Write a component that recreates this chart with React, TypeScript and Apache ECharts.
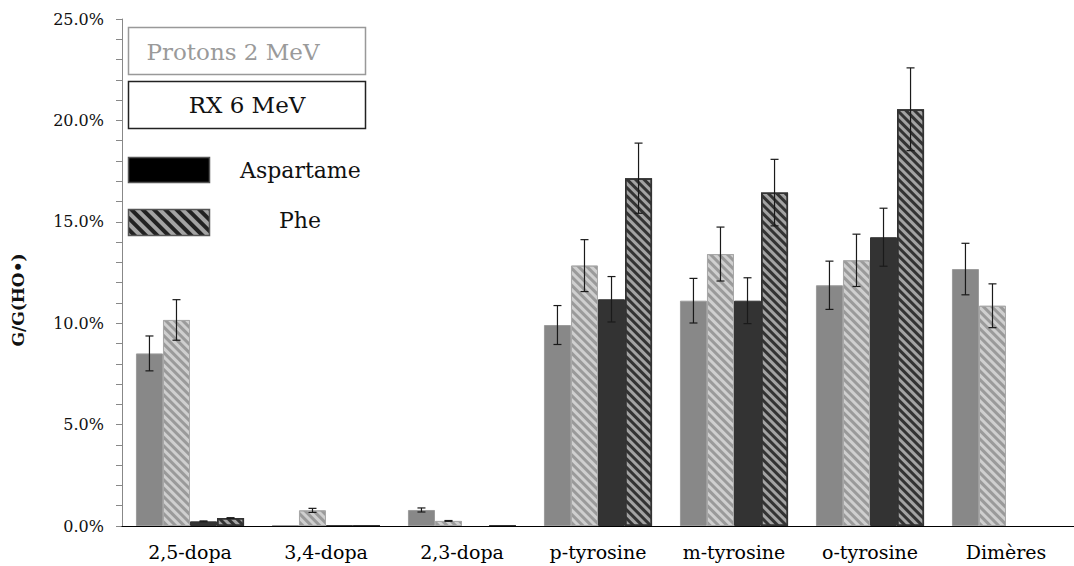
import React, { useEffect, useRef } from "react";
import * as echarts from "echarts";

const categories = ["2,5-dopa", "3,4-dopa", "2,3-dopa", "p-tyrosine", "m-tyrosine", "o-tyrosine", "Dimères"];
const protonsAsp = [8.51, 0.03, 0.79, 9.91, 11.11, 11.87, 12.67];
const protonsPhe = [10.16, 0.77, 0.25, 12.84, 13.41, 13.1, 10.86];
const rxAsp = [0.23, 0.03, null, 11.18, 11.11, 14.24, null];
const rxPhe = [0.39, 0.02, 0.03, 17.15, 16.44, 20.55, null];
const protonsAspErr = [0.86, 0, 0.1, 0.96, 1.1, 1.19, 1.27];
const protonsPheErr = [1.0, 0.1, 0.02, 1.28, 1.33, 1.29, 1.08];
const rxAspErr = [0.02, 0, 0, 1.12, 1.13, 1.43, 0];
const rxPheErr = [0.02, 0, 0, 1.73, 1.64, 2.04, 0];
const yTicks = { min: 0, max: 25, interval: 5 };

const FONT = "'DejaVu Serif', serif";
const GAP = 0.205;

const hatchSvg = (bg: string, fg: string, w: number, h: number) => {
  const s = `<svg xmlns='http://www.w3.org/2000/svg' width='${w}' height='${h}'><defs><pattern id='p' width='8' height='8' patternUnits='userSpaceOnUse' patternTransform='rotate(-45)'><rect width='8' height='8' fill='${bg}'/><rect width='4' height='8' fill='${fg}'/></pattern></defs><rect width='${w}' height='${h}' fill='url(#p)'/></svg>`;
  return "data:image/svg+xml;charset=utf-8," + encodeURIComponent(s);
};

export default function App() {
  const ref = useRef<HTMLDivElement>(null);
  useEffect(() => {
    if (!ref.current) return;
    const chart = echarts.init(ref.current, undefined, { renderer: "svg" });
    const seriesVals = [protonsAsp, protonsPhe, rxAsp, rxPhe];
    const seriesErrs = [protonsAspErr, protonsPheErr, rxAspErr, rxPheErr];
    const errData: number[][] = [];
    seriesVals.forEach((vals, si) => {
      vals.forEach((v, ci) => {
        const e = seriesErrs[si][ci];
        if (v != null && e > 0) errData.push([ci, v, e, si]);
      });
    });
    const stripe = (color: string) => ({
      symbol: "rect",
      symbolSize: 1,
      color,
      dashArrayX: [1, 0],
      dashArrayY: [3, 3],
      rotation: Math.PI / 4,
    });
    chart.setOption({
      animation: false,
      grid: { left: 122, top: 19, right: -10, bottom: 40 },
      xAxis: {
        type: "category",
        data: categories,
        axisLine: { lineStyle: { color: "#000", width: 1.2 } },
        axisTick: { show: false },
        axisLabel: { fontFamily: FONT, fontSize: 19, color: "#000", margin: 16 },
        z: 5,
      },
      yAxis: {
        type: "value",
        ...yTicks,
        axisLine: { show: true, lineStyle: { color: "#888" } },
        axisTick: { show: true, length: 6, lineStyle: { color: "#888" } },
        minorTick: { show: true, splitNumber: 5, length: 6, lineStyle: { color: "#888" } },
        splitLine: { show: false },
        axisLabel: {
          fontFamily: FONT,
          fontSize: 16,
          color: "#111",
          margin: 18,
          formatter: (v: number) => v.toFixed(1) + "%",
        },
      },
      series: [
        {
          type: "bar",
          name: "Protons Aspartame",
          data: protonsAsp,
          barGap: "0%",
          barCategoryGap: GAP * 100 + "%",
          itemStyle: { color: "#888888", borderColor: "#9c9c9c", borderWidth: 1 },
        },
        {
          type: "bar",
          name: "Protons Phe",
          data: protonsPhe,
          itemStyle: { color: "#cfcfcf", borderColor: "#a8a8a8", borderWidth: 1, decal: stripe("#9a9a9a") },
        },
        {
          type: "bar",
          name: "RX Aspartame",
          data: rxAsp,
          itemStyle: { color: "#333333", borderColor: "#333333", borderWidth: 1 },
        },
        {
          type: "bar",
          name: "RX Phe",
          data: rxPhe,
          itemStyle: { color: "#a3a3a3", borderColor: "#333333", borderWidth: 1.5, decal: stripe("#333333") },
        },
        {
          type: "custom",
          name: "err",
          data: errData,
          z: 10,
          renderItem: (params: any, api: any) => {
            const ci = api.value(0);
            const v = api.value(1);
            const e = api.value(2);
            const si = api.value(3);
            const band = api.size([1, 0])[0];
            const bw = (band * (1 - GAP)) / 4;
            const c = api.coord([ci, v]);
            const cx = c[0] + (si - 1.5) * bw;
            const top = api.coord([ci, v + e])[1];
            const bot = api.coord([ci, Math.max(v - e, 0)])[1];
            const cap = 4;
            const st = { stroke: "#1a1a1a", lineWidth: 1.2 };
            return {
              type: "group",
              children: [
                { type: "line", shape: { x1: cx, y1: top, x2: cx, y2: bot }, style: st },
                { type: "line", shape: { x1: cx - cap, y1: top, x2: cx + cap, y2: top }, style: st },
                { type: "line", shape: { x1: cx - cap, y1: bot, x2: cx + cap, y2: bot }, style: st },
              ],
            };
          },
        },
      ],
      graphic: [
        {
          type: "text",
          x: 18,
          y: 300,
          rotation: Math.PI / 2,
          style: {
            text: "G/G(HO•)",
            font: `bold 17px ${FONT}`,
            fill: "#111",
            align: "center",
            verticalAlign: "middle",
          },
        },
        {
          type: "rect",
          shape: { x: 128.5, y: 27.5, width: 237, height: 47 },
          style: { fill: "#fff", stroke: "#999", lineWidth: 1.5 },
        },
        {
          type: "text",
          x: 233,
          y: 52,
          style: { text: "Protons 2 MeV", font: `23px ${FONT}`, fill: "#9a9a9a", align: "center", verticalAlign: "middle" },
        },
        {
          type: "rect",
          shape: { x: 128.5, y: 81.5, width: 237, height: 47 },
          style: { fill: "#fff", stroke: "#222", lineWidth: 1.5 },
        },
        {
          type: "text",
          x: 247,
          y: 105,
          style: { text: "RX 6 MeV", font: `23px ${FONT}`, fill: "#111", align: "center", verticalAlign: "middle" },
        },
        {
          type: "rect",
          shape: { x: 128.5, y: 157.5, width: 81, height: 25 },
          style: { fill: "#000", stroke: "#555", lineWidth: 1.5 },
        },
        {
          type: "text",
          x: 240,
          y: 170,
          style: { text: "Aspartame", font: `22px ${FONT}`, fill: "#111", align: "left", verticalAlign: "middle" },
        },
        {
          type: "image",
          style: { image: hatchSvg("#a3a3a3", "#222", 81, 26), x: 128.5, y: 209.5, width: 81, height: 26 },
        },
        {
          type: "rect",
          shape: { x: 128.5, y: 209.5, width: 81, height: 26 },
          style: { fill: "none", stroke: "#555", lineWidth: 1.5 },
        },
        {
          type: "text",
          x: 300,
          y: 220,
          style: { text: "Phe", font: `22px ${FONT}`, fill: "#111", align: "center", verticalAlign: "middle" },
        },
      ],
    });
    return () => chart.dispose();
  }, []);
  return (
    <div
      ref={ref}
      style={{ position: "fixed", left: 0, top: 0, width: 1074, height: 566, background: "#fff" }}
    />
  );
}
